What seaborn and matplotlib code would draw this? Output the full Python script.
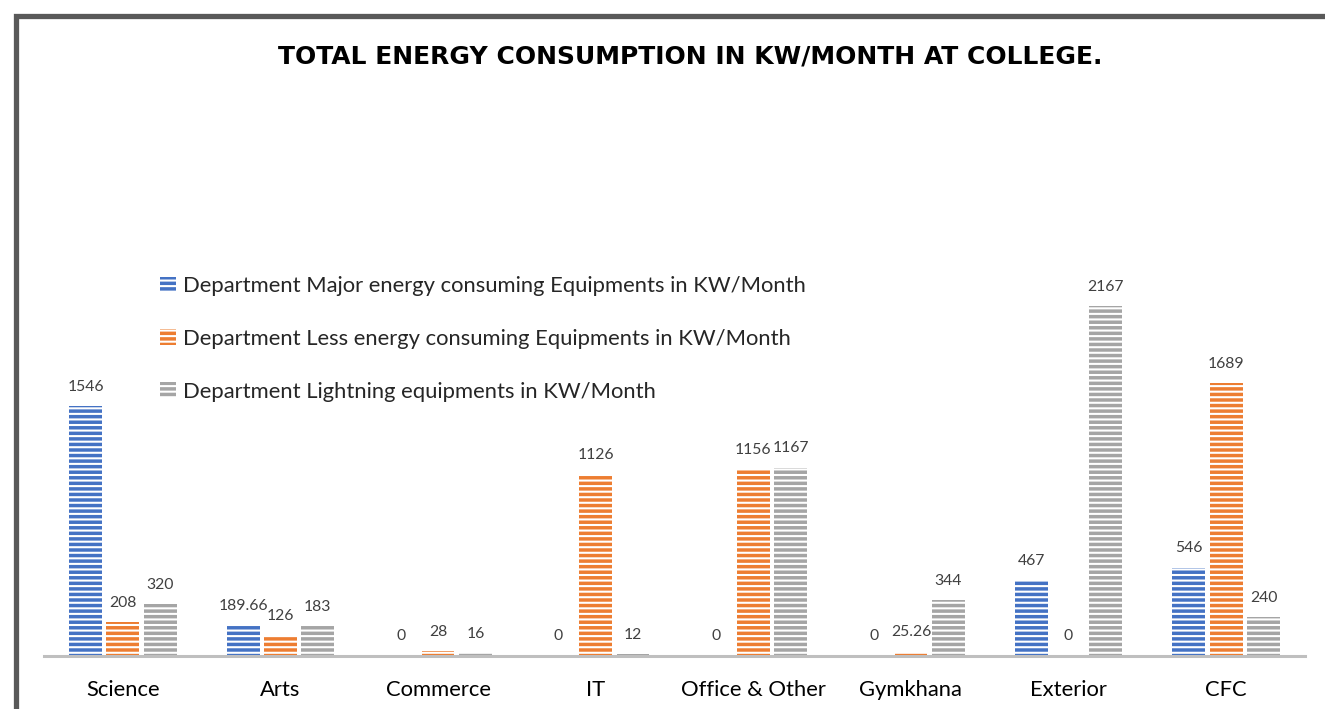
import matplotlib
matplotlib.use("Agg")
import matplotlib.pyplot as plt
import pandas as pd
import seaborn as sns
from matplotlib.patches import Rectangle

departments = ["Science", "Arts", "Commerce", "IT", "Office & Other", "Gymkhana", "Exterior", "CFC"]
major = [1546, 189.66, 0, 0, 0, 0, 467, 546]
less = [208, 126, 28, 1126, 1156, 25.26, 0, 1689]
lighting = [320, 183, 16, 12, 1167, 344, 2167, 240]
series = ["Department Major energy consuming Equipments in KW/Month",
          "Department Less energy consuming Equipments in KW/Month",
          "Department Lightning equipments in KW/Month"]
palette = ["#4472C4", "#ED7D31", "#A5A5A5"]
title = "TOTAL ENERGY CONSUMPTION IN KW/MONTH AT COLLEGE."

df = pd.DataFrame({"Department": departments, series[0]: major, series[1]: less, series[2]: lighting})
long_df = df.melt(id_vars="Department", var_name="Series", value_name="KW")

sns.set_theme(style="white")
plt.rcParams["font.family"] = ["Lato", "DejaVu Sans"]
plt.rcParams["hatch.linewidth"] = 1.5

W, H = 1325, 709
fig = plt.figure(figsize=(W / 100, H / 100), dpi=100)
ax = fig.add_axes([44 / W, 53 / H, 1261 / W, 2600 * 0.1615 / H])

sns.barplot(data=long_df, x="Department", y="KW", hue="Series", palette=palette,
            width=0.71, gap=0.12, saturation=1, legend=False, ax=ax)

# white horizontal stripes like the original fill pattern
for cont in ax.containers:
    for bar in cont:
        bar.set_hatch("---")
        bar.set_edgecolor("white")
        bar.set_linewidth(0)
    ax.bar_label(cont, labels=[f"{v:g}" for v in cont.datavalues], padding=9,
                 fontsize=11.3, color="#404040")

ax.set_ylim(0, 2600)
ax.set_xlim(-0.5, 7.5)
ax.set_xlabel("")
ax.set_ylabel("")
ax.set_yticks([])
ax.tick_params(axis="x", length=0, pad=17.5, labelsize=15.8, labelcolor="#000000")
for s in ["top", "left", "right"]:
    ax.spines[s].set_visible(False)
ax.spines["bottom"].set_color("#BFBFBF")
ax.spines["bottom"].set_linewidth(2.2)

ax.legend(handles=list(ax.containers), labels=series, loc="upper left",
          bbox_to_anchor=(160 / W, 1 - 276 / H), bbox_transform=fig.transFigure,
          frameon=False, fontsize=15.8, labelspacing=1.5, handlelength=0.72,
          handleheight=0.72, handletextpad=0.35, borderpad=0, borderaxespad=0)

fig.text(690 / W, 1 - 57 / H, title, ha="center", va="center", fontsize=18,
         fontweight="bold", family=["DejaVu Sans"], color="#000000")

fig.add_artist(Rectangle((15.5 / W, -0.1), 1.5, 1 - 15.5 / H + 0.1, transform=fig.transFigure,
                         fill=False, edgecolor="#595959", linewidth=3.8))

fig.savefig("out.png", dpi=100)
